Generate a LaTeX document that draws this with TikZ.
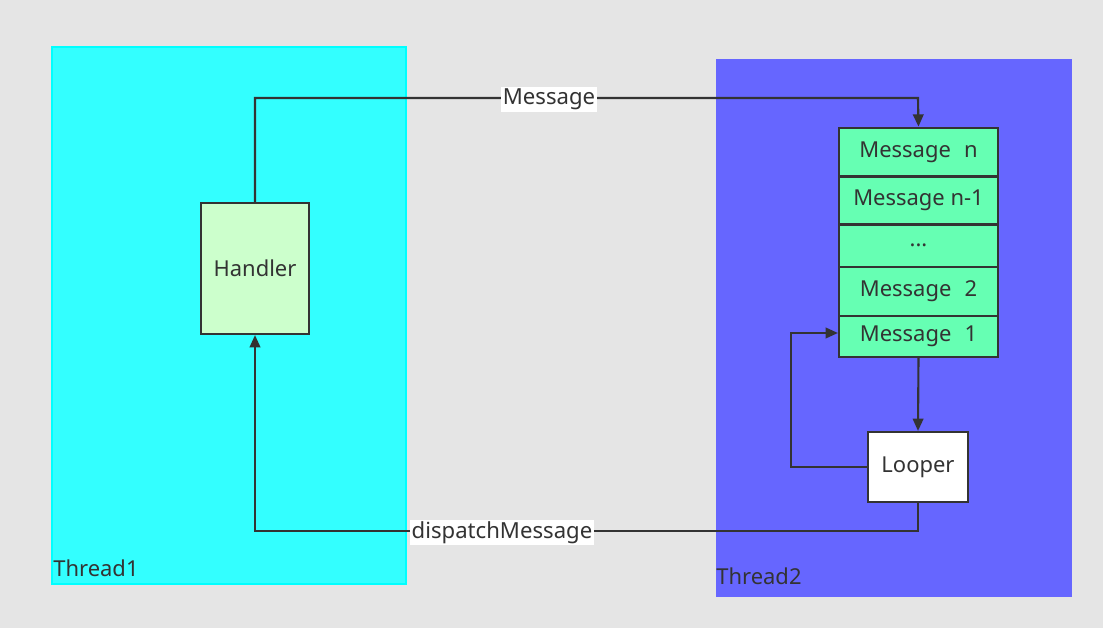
\documentclass[tikz,border=0pt]{standalone}
\usepackage{fontspec}
\setmainfont{Noto Sans}
\usetikzlibrary{arrows.meta}
\definecolor{bg}{HTML}{E5E5E5}
\definecolor{tone}{HTML}{33FFFF}
\definecolor{toneb}{HTML}{00FFFF}
\definecolor{ttwo}{HTML}{6666FF}
\definecolor{hfill}{HTML}{CCFFCC}
\definecolor{mfill}{HTML}{66FFB3}
\definecolor{ink}{HTML}{333333}
\tikzset{
  box/.style={draw=ink, line width=1.2pt, inner sep=0pt, text=ink, font=\fontsize{12.5}{14}\selectfont},
  conn/.style={draw=ink, line width=1.2pt, -{Triangle[length=7pt,width=6pt]}},
  lbl/.style={fill=white, inner sep=1pt, text=ink, font=\fontsize{12.6}{14}\selectfont},
  tlbl/.style={anchor=base west, inner sep=0pt, text=ink, font=\fontsize{12.5}{14}\selectfont}
}
\begin{document}
\begin{tikzpicture}[x=0.02cm,y=-0.02cm]
\fill[bg] (0,0) rectangle (1103,628);
\useasboundingbox (0,0) rectangle (1103,628);
% thread areas
\filldraw[fill=tone, draw=toneb, line width=1pt] (52,47) rectangle (406,584);
\node[tlbl] (t1) at (53,576) {Thread1};
\fill[ttwo] (716,59) rectangle (1072,597);
\node[tlbl] (t2) at (716,584) {Thread2};
% handler
\node[box, fill=hfill, minimum width=108*0.02cm, minimum height=131*0.02cm] (h) at (255,268.5) {Handler};
% message queue
\node[box, fill=mfill, minimum width=159*0.02cm, minimum height=48.8*0.02cm] (mn) at (918.5,152.1) {\raisebox{-1.5pt}{Message\hspace{0.6em}n}};
\node[box, fill=mfill, minimum width=159*0.02cm, minimum height=48*0.02cm] (mn1) at (918.5,200.5) {\raisebox{-1.5pt}{Message n-1}};
\node[box, fill=mfill, minimum width=159*0.02cm, minimum height=42.2*0.02cm] (md) at (918.5,245.6) {...};
\node[box, fill=mfill, minimum width=159*0.02cm, minimum height=49.3*0.02cm] (m2) at (918.5,291.35) {\raisebox{-1.5pt}{Message\hspace{0.6em}2}};
\node[box, fill=mfill, minimum width=159*0.02cm, minimum height=40.7*0.02cm] (m1) at (918.5,336.35) {Message\hspace{0.6em}1};
% looper
\node[box, fill=white, minimum width=100*0.02cm, minimum height=70*0.02cm] (lp) at (918,467) {\raisebox{-1.5pt}{Looper}};
% connectors
\coordinate (c1) at (255,98);
\coordinate (c2) at (918,98);
\draw[conn] (h.north) -- (c1) -- (c2) -- (mn.north);
\node[lbl] (lm) at (549,99.5) {Message};
\draw[conn] (m1.south) -- (lp.north);
\coordinate (c3) at (791,467);
\coordinate (c4) at (791,333);
\draw[conn] (lp.west) -- (c3) -- (c4) -- (c4 -| m1.west);
\coordinate (c5) at (918,531);
\coordinate (c6) at (255,531);
\draw[conn] (lp.south) -- (c5) -- (c6) -- (h.south);
\node[lbl] (ld) at (502,532.5) {dispatchMessage};
\end{tikzpicture}
\end{document}
